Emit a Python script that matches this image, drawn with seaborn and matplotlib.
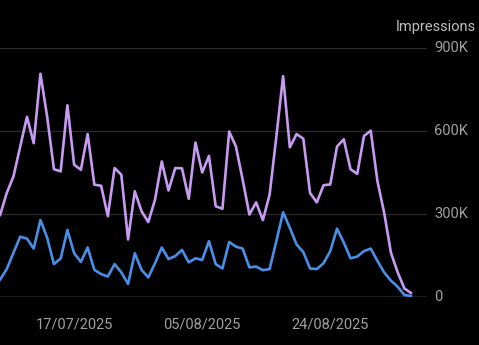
import numpy as np
import pandas as pd
import matplotlib
matplotlib.use("Agg")
import matplotlib.pyplot as plt
import matplotlib.dates as mdates
import matplotlib.ticker as mticker
import seaborn as sns

# Daily series, 06/07/2025 .. 05/09/2025
start_date = "2025-07-06"
impressions_total = [
    295, 376, 436, 544, 651, 556, 807, 651, 462, 454,
    693, 478, 460, 589, 406, 402, 292, 466, 442, 208,
    382, 310, 271, 352, 490, 385, 466, 465, 355, 558,
    450, 510, 328, 319, 598, 544, 424, 298, 342, 278,
    370, 580, 798, 541, 589, 572, 376, 342, 404, 407,
    544, 570, 462, 445, 582, 601, 418, 304, 160, 89,
    31, 14,
]
impressions_subset = [
    62, 101, 160, 218, 211, 175, 278, 214, 119, 139,
    242, 158, 127, 179, 98, 83, 74, 119, 89, 47,
    158, 98, 71, 122, 179, 137, 148, 170, 125, 140,
    134, 202, 119, 103, 199, 182, 175, 107, 110, 97,
    101, 202, 306, 250, 190, 162, 103, 101, 122, 166,
    247, 197, 140, 146, 166, 175, 130, 89, 59, 37,
    7, 4,
]
tick_dates = ["2025-07-17", "2025-08-05", "2025-08-24"]
y_ticks = [0, 300_000, 600_000, 900_000]
y_tick_labels = ["0", "300K", "600K", "900K"]
axis_title = "Impressions"

dates = pd.date_range(start_date, periods=len(impressions_total), freq="D")
df = pd.DataFrame({
    "date": list(dates) * 2,
    "value": [v * 1000 for v in impressions_total] + [v * 1000 for v in impressions_subset],
    "series": ["total"] * len(dates) + ["subset"] * len(dates),
})

sns.set_theme(style="dark")
plt.rcParams["font.family"] = ["Roboto", "DejaVu Sans"]

fig = plt.figure(figsize=(4.79, 3.45), dpi=100, facecolor="black")
ax = fig.add_axes([0.0, 1 - 297 / 345, 427 / 479, (297 - 48) / 345])
ax.set_facecolor("black")

sns.lineplot(
    data=df, x="date", y="value", hue="series",
    palette={"total": "#c79bf2", "subset": "#4a8fe7"},
    hue_order=["total", "subset"], linewidth=1.9, legend=False, ax=ax,
)

# grid lines
for t in y_ticks[1:]:
    ax.axhline(t, color="#2b2b2b", linewidth=0.9, zorder=0)
ax.axhline(0, color="#8a8a8a", linewidth=1.0, zorder=0)

ax.set_ylim(0, 900_000)
x0 = mdates.date2num(dates[0])
ax.set_xlim(x0, x0 + 63.35)

ax.yaxis.tick_right()
ax.set_yticks(y_ticks)
ax.set_yticklabels(y_tick_labels)
ax.set_xticks([mdates.date2num(pd.Timestamp(d)) for d in tick_dates])
ax.xaxis.set_major_formatter(mdates.DateFormatter("%d/%m/%Y"))
ax.tick_params(axis="y", length=0, pad=5, labelsize=10.5, colors="#a0a0a0")
ax.tick_params(axis="x", length=0, pad=15, labelsize=10.5, colors="#a0a0a0")
for lbl in ax.get_yticklabels():
    lbl.set_verticalalignment("center")
ax.set_xlabel("")
ax.set_ylabel("")
ax.grid(False)
for s in ax.spines.values():
    s.set_visible(False)

fig.text(476 / 479, 1 - 27 / 345, axis_title, ha="right", va="center",
         fontsize=10.5, color="#bdbdbd")

fig.savefig("out.png", dpi=100, facecolor="black")
